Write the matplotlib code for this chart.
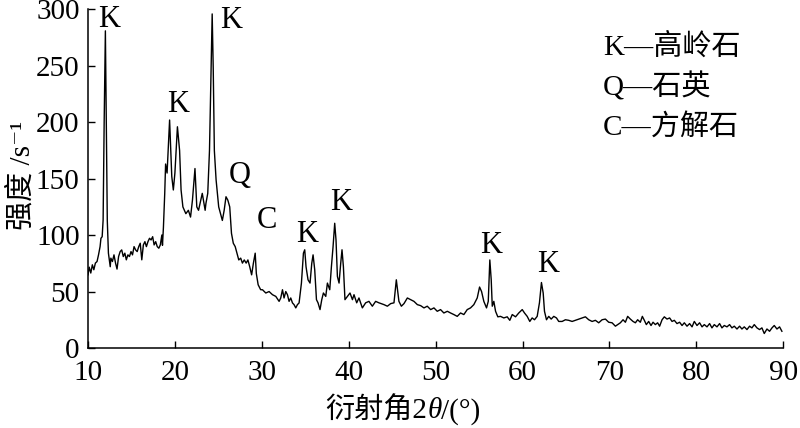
import matplotlib.pyplot as plt
from matplotlib.offsetbox import TextArea, HPacker, AnchoredOffsetbox

plt.rcParams['font.family'] = ['Liberation Serif', 'Noto Sans CJK SC', 'DejaVu Serif']

# XRD pattern (2theta in degrees, counts per second)
two_theta = [10.0, 10.14, 10.32, 10.5, 10.67, 10.85, 11.04, 11.21, 11.39, 11.49, 11.63, 11.74, 11.86, 12.0,
             12.12, 12.22, 12.35, 12.56, 12.63, 12.81, 12.99, 13.17, 13.34, 13.52, 13.7, 13.88, 14.06,
             14.24, 14.41, 14.59, 14.77, 14.95, 15.12, 15.3, 15.48, 15.66, 15.84, 16.01, 16.19, 16.37,
             16.55, 16.72, 16.9, 17.08, 17.26, 17.44, 17.61, 17.79, 17.97, 18.15, 18.32, 18.5, 18.57,
             18.68, 18.83, 18.93, 19.1, 19.39, 19.64, 19.82, 20.0, 20.29, 20.54, 20.71, 20.92, 21.26,
             21.55, 21.8, 22.02, 22.31, 22.52, 22.72, 22.94, 23.15, 23.35, 23.48, 23.57, 23.78, 23.98,
             24.16, 24.29, 24.41, 24.54, 24.74, 25.04, 25.25, 25.46, 25.67, 25.88, 26.09, 26.31, 26.51,
             26.72, 26.94, 27.14, 27.35, 27.57, 27.77, 27.98, 28.2, 28.4, 28.61, 28.83, 29.03, 29.24,
             29.37, 29.58, 29.87, 30.08, 30.46, 30.84, 31.23, 31.61, 31.99, 32.18, 32.38, 32.56, 32.76,
             32.95, 33.14, 33.33, 33.53, 33.71, 33.91, 34.1, 34.29, 34.56, 34.79, 34.94, 35.09, 35.32,
             35.55, 35.75, 35.9, 36.09, 36.29, 36.47, 36.7, 36.9, 37.09, 37.36, 37.55, 37.82, 38.01,
             38.2, 38.39, 38.54, 38.7, 38.89, 39.08, 39.23, 39.39, 39.57, 39.85, 40.15, 40.43, 40.61,
             40.92, 41.18, 41.57, 41.95, 42.33, 42.72, 43.1, 43.48, 44.06, 44.45, 44.83, 45.21, 45.48,
             45.78, 46.06, 46.36, 46.75, 47.13, 47.51, 47.9, 48.28, 48.66, 49.04, 49.43, 49.81, 50.19,
             50.57, 50.95, 51.35, 51.72, 52.1, 52.49, 52.87, 53.25, 53.64, 54.02, 54.4, 54.79, 55.06,
             55.29, 55.55, 55.86, 56.06, 56.24, 56.4, 56.52, 56.7, 56.9, 57.16, 57.47, 57.85, 58.24,
             58.54, 58.82, 59.2, 59.57, 59.97, 60.23, 60.54, 60.84, 61.11, 61.38, 61.69, 61.95, 62.18,
             62.38, 62.53, 62.76, 63.02, 63.3, 63.6, 63.91, 64.17, 64.56, 64.94, 65.32, 65.71, 66.09,
             66.47, 66.86, 67.24, 67.62, 68.01, 68.39, 68.77, 69.16, 69.54, 69.92, 70.31, 70.69, 71.26,
             71.57, 71.84, 72.1, 72.41, 72.72, 72.99, 73.25, 73.56, 73.79, 74.02, 74.25, 74.52, 74.79,
             75.02, 75.29, 75.55, 75.78, 76.06, 76.32, 76.63, 76.93, 77.21, 77.47, 77.78, 78.08, 78.36,
             78.62, 78.93, 79.23, 79.51, 79.77, 80.08, 80.38, 80.66, 80.92, 81.23, 81.53, 81.8, 82.07,
             82.38, 82.68, 82.95, 83.22, 83.53, 83.83, 84.1, 84.37, 84.68, 84.98, 85.25, 85.52, 85.83,
             86.13, 86.4, 86.67, 86.98, 87.28, 87.55, 87.82, 88.13, 88.43, 88.71, 88.97, 89.28, 89.58,
             89.85]
intensity = [64.8, 71.6, 66.4, 73.7, 69.3, 75.2, 76.6, 82.5, 89.8, 97.2, 98.6, 113.4, 200, 281,
             190, 113, 84, 72, 79.6, 76.6, 82.5, 75.2, 69.9, 81, 85.4, 86.9, 81,
             84, 78.1, 82.5, 81, 85.4, 82.5, 89.8, 86.9, 85.4, 89.8, 92.8, 78.1, 91.3,
             94.2, 89.8, 94.2, 97.2, 95.7, 98.6, 91.3, 94.2, 89.8, 88.4, 91.3, 100.1, 91,
             107, 137, 163, 155, 202, 152, 140, 155, 196, 175, 140, 125, 119,
             122, 116, 131, 159, 125, 122, 129.5, 137, 128, 122, 128, 137, 175,
             248, 296, 248, 175, 149, 125, 119, 113, 122, 134, 131, 125, 101.6,
             92.8, 89.8, 84, 78, 79.6, 75.2, 78, 75.2, 78, 72, 64.8, 75, 84,
             66, 56, 51.6, 51.6, 48.7, 50, 47.2, 45.7, 41.3, 44.3, 51.6, 44.3, 50,
             47.2, 41.3, 44.3, 39.9, 38.4, 35.5, 38.4, 39.9, 57.5, 84, 87, 72, 60.4,
             57.5, 75, 82.5, 69.3, 42.8, 40, 34, 42.8, 48.7, 45.7, 57.5, 51.6, 72,
             89.8, 110.5, 95.7, 63.4, 57.5, 75, 87, 72, 42.8, 45.7, 48.7, 42.8, 47.2,
             40, 44.3, 35.5, 40, 41.3, 37, 41.3, 40, 38.4, 37, 39.3, 40, 60.4,
             41.3, 37, 39.3, 44.3, 42.8, 41.3, 38.4, 37.5, 35.5, 37, 34, 35.5, 32.5,
             34, 31, 32.5, 31, 29.6, 28, 31, 29.6, 34, 35.5, 38.4, 44.3, 54,
             50, 41.3, 35.5, 41.3, 78, 60.4, 37, 41.3, 32.5, 27.6, 28, 26.6, 27.6,
             24.5, 29.6, 27.6, 31, 34, 31, 28, 23.5, 26.6, 25, 28, 40, 58,
             48.7, 32.5, 25, 28, 25.6, 28, 26.6, 23.5, 23.5, 25, 24.5, 23.5, 24.5,
             25.6, 26.6, 27.6, 25, 23.5, 24.5, 22.3, 25, 25.6, 22.8, 22.3, 19.3, 22.3,
             25, 22.8, 28, 25.6, 23.5, 22.3, 25, 22.8, 28, 24.5, 20.7, 23.5, 19.9,
             22.8, 20.7, 22.3, 19.3, 25, 27.6, 25.6, 26.6, 23.5, 24.5, 21.6, 22.8, 19.9,
             22.3, 19.3, 21.6, 18.7, 23.5, 19.9, 22.3, 18.7, 20.7, 18.7, 21.6, 17.8, 20.7,
             18.7, 21.6, 17.8, 19.9, 18.7, 20.7, 17.8, 19.3, 16.8, 19.3, 16.8, 18.7, 16.3,
             19.3, 17.8, 20.7, 17.8, 16.3, 17.8, 12.8, 16.8, 14.8, 17.8, 19.9, 16.8, 18.7,
             14.8]

peak_names = ['K', 'K', 'K', 'Q', 'C', 'K', 'K', 'K', 'K']
name_x = [12.42, 20.36, 26.46, 27.49, 30.56, 35.26, 39.11, 56.37, 62.93]
name_y = [284, 208.8, 283.2, 145.8, 106.2, 94.1, 122, 83.8, 67.1]
legend_lines = ['K—高岭石', 'Q—石英', 'C—方解石']

fig = plt.figure(figsize=(8, 4.28), dpi=100)
ax = fig.add_axes([0.11, 0.187, 0.869, 0.791])
ax.plot(two_theta, intensity, color='black', lw=1.0)

ax.set_xlim(10, 90)
ax.set_ylim(0, 300)
ax.set_xticks(range(10, 91, 10))
ax.set_yticks(range(0, 301, 50))
ax.spines['top'].set_visible(False)
ax.spines['right'].set_visible(False)
for s in ['left', 'bottom']:
    ax.spines[s].set_linewidth(1.1)
ax.tick_params(direction='in', length=5, width=1.0, labelsize=21)
ax.tick_params(axis='x', pad=9)
ax.tick_params(axis='y', pad=6)

for name, x, y in zip(peak_names, name_x, name_y):
    ax.text(x, y, name, fontsize=22, ha='center', va='baseline', clip_on=False)

for i, line in enumerate(legend_lines):
    fig.text(0.754, 0.8715 - i * 0.0935, line, fontsize=21, ha='left', va='baseline')

# x label with italic theta
parts = [TextArea('衍射角2', textprops=dict(fontsize=21)),
         TextArea('θ', textprops=dict(fontsize=21, style='italic')),
         TextArea('/(°)', textprops=dict(fontsize=21))]
box = HPacker(children=parts, align='baseline', pad=0, sep=0)
anchored = AnchoredOffsetbox(loc='center', child=box, frameon=False, pad=0, borderpad=0,
                             bbox_to_anchor=(403 / 800, 1 - 411 / 428), bbox_transform=fig.transFigure)
fig.add_artist(anchored)

fig.text(22 / 800, 1 - 175 / 428, '强度 /s⁻¹', rotation=90, fontsize=21, ha='center', va='center')

fig.savefig('out.png', dpi=100)
